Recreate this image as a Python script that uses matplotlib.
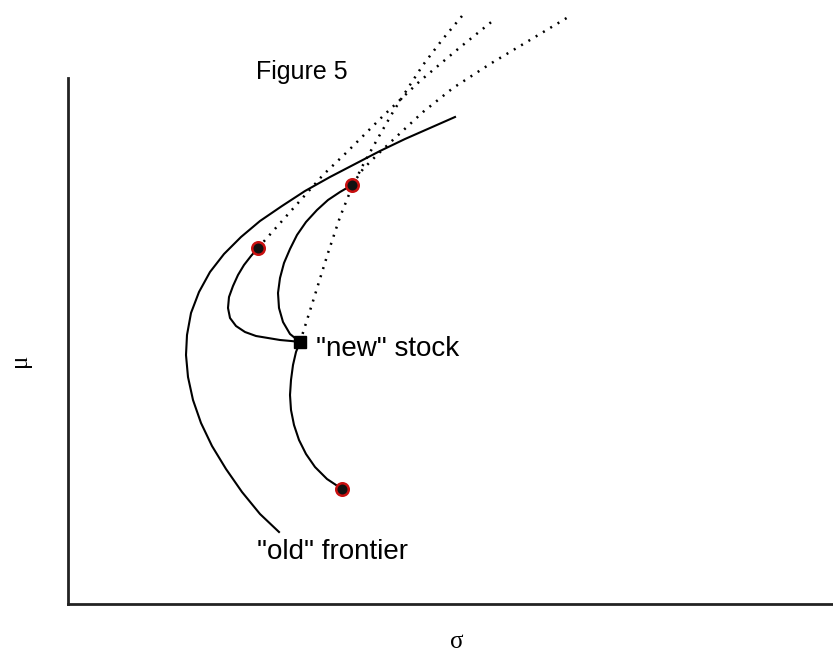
import matplotlib
matplotlib.use("Agg")
import matplotlib.pyplot as plt

# mean-variance frontiers, sigma on x, mu on y
old_sigma = [19.35, 18.1, 16.85, 15.6, 14.35, 13.1, 11.85, 10.7, 9.6, 8.65, 7.8, 7.1, 6.55, 6.15, 5.95, 5.9,
             6.0, 6.25, 6.65, 7.2, 7.9, 8.7, 9.6, 10.55]
old_mu = [24.35, 23.8, 23.25, 22.65, 22.0, 21.35, 20.65, 19.9, 19.15, 18.35, 17.5, 16.6, 15.6, 14.55, 13.45, 12.45,
          11.35, 10.2, 9.05, 7.9, 6.75, 5.6, 4.5, 3.6]

# first old asset combined with the new stock
a_sigma = [9.5, 9.15, 8.8, 8.5, 8.25, 8.05, 8.0, 8.1, 8.4, 8.85, 9.4, 10.0, 10.6, 11.15, 11.6]
a_mu = [17.8, 17.4, 16.95, 16.45, 15.9, 15.35, 14.8, 14.3, 13.9, 13.6, 13.4, 13.3, 13.2, 13.15, 13.1]

# second old asset -> new stock -> third asset
b_sigma = [14.2, 13.6, 13.0, 12.45, 11.9, 11.45, 11.1, 10.8, 10.6, 10.5, 10.55, 10.75, 11.1, 11.6,
           11.4, 11.25, 11.15, 11.1, 11.15, 11.3, 11.55, 11.9, 12.35, 12.95, 13.7]
b_mu = [20.95, 20.6, 20.2, 19.7, 19.1, 18.45, 17.75, 17.05, 16.3, 15.55, 14.8, 14.1, 13.5, 13.1,
        12.6, 11.95, 11.2, 10.45, 9.7, 8.95, 8.2, 7.5, 6.85, 6.25, 5.75]

# dotted extensions
d1_sigma = [9.5, 11.1, 12.75, 13.95, 15.75, 17.6, 19.5, 21.35]
d1_mu = [17.8, 19.6, 21.45, 22.6, 24.4, 26.15, 27.75, 29.25]

d2_sigma = [11.6, 12.3, 13.0, 13.6, 14.2, 14.8, 15.5, 16.25, 17.0, 17.75, 18.7, 19.7]
d2_mu = [13.1, 15.3, 17.55, 19.35, 20.85, 22.05, 23.3, 24.6, 25.8, 26.95, 28.2, 29.4]

d3_sigma = [14.2, 14.75, 15.5, 16.35, 17.75, 19.25, 21.1, 23.1, 25.1]
d3_mu = [20.95, 21.75, 22.5, 23.3, 24.6, 25.8, 27.0, 28.2, 29.4]

# portfolios
dots_sigma = [9.5, 14.2, 13.7]
dots_mu = [17.8, 20.95, 5.75]
new_sigma = [11.6]
new_mu = [13.1]

plt.rcParams['font.family'] = ['Liberation Sans', 'DejaVu Sans']

fig = plt.figure(figsize=(8.33, 6.53), dpi=100)
ax = fig.add_axes([68/833, 49/653, 765/833, 604/653])
ax.set_xlim(0, 38.25)
ax.set_ylim(0, 30.2)

ax.plot(old_sigma, old_mu, 'k-', lw=1.5, solid_joinstyle='round')
ax.plot(a_sigma, a_mu, 'k-', lw=1.5, solid_joinstyle='round')
ax.plot(b_sigma, b_mu, 'k-', lw=1.5, solid_joinstyle='round')

for xs, ys in [(d1_sigma, d1_mu), (d2_sigma, d2_mu), (d3_sigma, d3_mu)]:
    ax.plot(xs, ys, color='k', lw=1.8, linestyle=(0, (0.8, 2.6)), clip_on=False)

ax.plot(dots_sigma, dots_mu, 'o', ms=9, mfc='#111111', mec='#c81010', mew=1.8, zorder=5)
ax.plot(new_sigma, new_mu, 's', ms=8, color='k', zorder=5)

ax.text(14.0, 26.25, 'Figure 5', fontsize=18, ha='right', va='baseline')
ax.text(12.4, 12.4, '"new" stock', fontsize=20, ha='left', va='baseline')
ax.text(9.45, 2.25, '"old" frontier', fontsize=20, ha='left', va='baseline')

for s in ['top', 'right']:
    ax.spines[s].set_visible(False)
ax.spines['left'].set_bounds(0, 26.3)
for s in ['left', 'bottom']:
    ax.spines[s].set_linewidth(2)
    ax.spines[s].set_color('#222222')
ax.set_xticks([])
ax.set_yticks([])
ax.patch.set_visible(False)

fig.text(20/833, 1 - 360/653, 'μ', rotation=90, fontsize=18, family='Liberation Serif', ha='center', va='center')
fig.text(457/833, 1 - 642/653, 'σ', fontsize=18, family='Liberation Serif', ha='center', va='center')

fig.savefig('out.png', dpi=100)
